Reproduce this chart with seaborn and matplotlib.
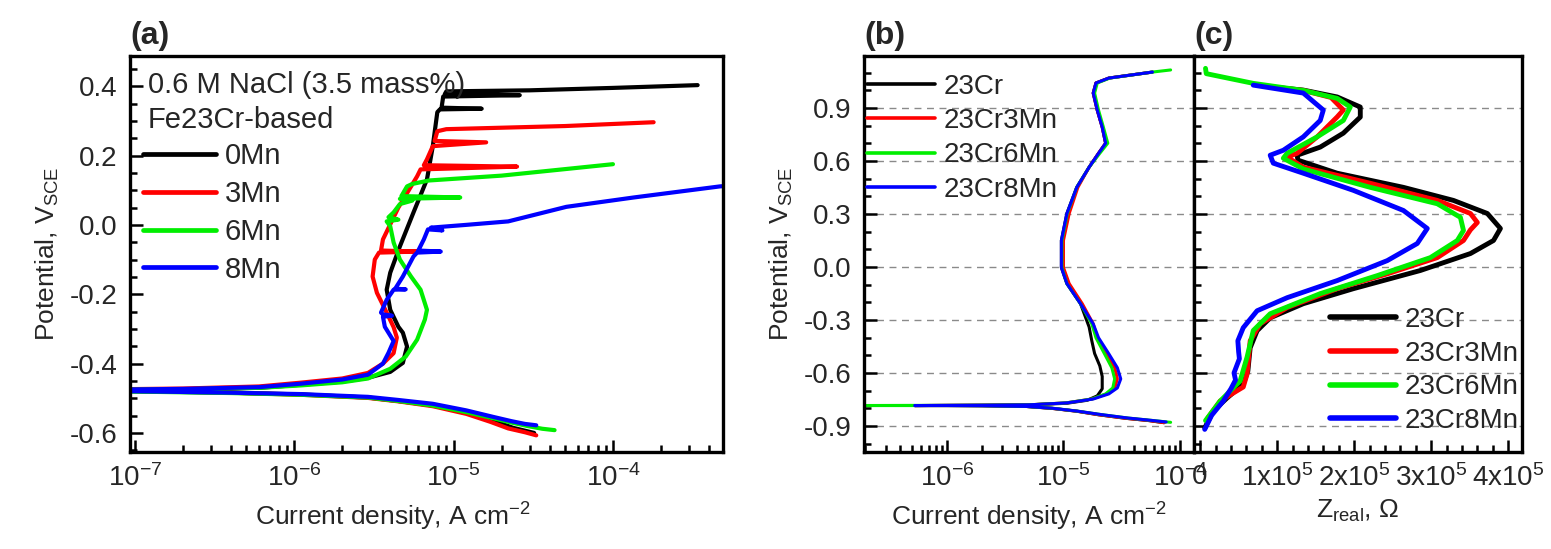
import numpy as np
import pandas as pd
import matplotlib
matplotlib.use('Agg')
from matplotlib import pyplot as plt
from matplotlib import ticker
import seaborn as sns

# ---- (a) polarization curves in 0.6 M NaCl, current in A cm-2, potential in V_SCE
alloys_a = ['0Mn', '3Mn', '6Mn', '8Mn']

i_a_0mn = [3.2e-5, 2.35e-5, 1.78e-5, 1.2e-5, 7.4e-6, 4.5e-6, 2.9e-6, 1.1e-6, 4e-7, 1.5e-7, 5e-8,
           5e-8, 2e-7, 6e-7, 1.1e-6, 2.0e-6, 2.9e-6, 4.0e-6, 4.8e-6, 5.1e-6, 4.8e-6, 4.5e-6, 4.0e-6,
           3.8e-6, 4.0e-6, 4.6e-6, 5.6e-6, 6.8e-6, 7.4e-6, 7.9e-6, 8.2e-6, 1.5e-5, 8.4e-6, 8.6e-6,
           2.6e-5, 8.8e-6, 9.0e-6, 3.0e-5, 1.0e-4, 3.4e-4]
E_a_0mn = [-0.600, -0.585, -0.565, -0.542, -0.521, -0.508, -0.498, -0.489, -0.484, -0.481, -0.478,
           -0.476, -0.474, -0.470, -0.461, -0.452, -0.441, -0.424, -0.398, -0.351, -0.311, -0.294, -0.245,
           -0.187, -0.138, -0.062, 0.036, 0.131, 0.227, 0.325, 0.333, 0.335, 0.338, 0.370,
           0.374, 0.377, 0.385, 0.388, 0.395, 0.403]

i_a_3mn = [3.3e-5, 2.8e-5, 2.2e-5, 1.7e-5, 1.2e-5, 7.4e-6, 4.5e-6, 2.9e-6, 1.1e-6, 4e-7, 1.5e-7, 5e-8,
           5e-8, 2e-7, 6e-7, 1.1e-6, 2.0e-6, 2.9e-6, 3.6e-6, 4.2e-6, 4.4e-6, 4.2e-6, 3.8e-6, 3.3e-6,
           3.1e-6, 3.2e-6, 3.4e-6, 5.9e-6, 3.5e-6, 3.6e-6, 4.5e-6, 5.9e-6, 6.2e-6, 2.5e-5, 6.5e-6,
           6.8e-6, 7.4e-6, 1.6e-5, 7.6e-6, 7.9e-6, 9.0e-6, 5.0e-5, 1.8e-4]
E_a_3mn = [-0.607, -0.598, -0.587, -0.568, -0.545, -0.523, -0.509, -0.499, -0.490, -0.484, -0.480, -0.477,
           -0.475, -0.472, -0.466, -0.455, -0.443, -0.427, -0.400, -0.370, -0.325, -0.295, -0.253, -0.196,
           -0.149, -0.100, -0.080, -0.077, -0.074, -0.042, 0.050, 0.140, 0.160, 0.168, 0.172,
           0.189, 0.227, 0.238, 0.242, 0.270, 0.276, 0.285, 0.296]

i_a_6mn = [4.3e-5, 3.6e-5, 2.9e-5, 2.3e-5, 1.78e-5, 1.2e-5, 7.4e-6, 4.5e-6, 2.9e-6, 1.1e-6, 4e-7, 1.5e-7, 5e-8,
           5e-8, 2e-7, 6e-7, 1.1e-6, 2.0e-6, 2.9e-6, 4.0e-6, 5.0e-6, 5.9e-6, 6.6e-6, 6.8e-6, 6.2e-6,
           5.4e-6, 4.6e-6, 4.2e-6, 4.0e-6, 3.8e-6, 4.5e-6, 3.9e-6, 4.2e-6, 4.6e-6, 5.5e-6, 4.6e-6,
           1.1e-5, 4.7e-6, 5.1e-6, 5.5e-6, 7.0e-6, 2.0e-5, 1.0e-4]
E_a_6mn = [-0.592, -0.588, -0.580, -0.570, -0.558, -0.540, -0.521, -0.508, -0.498, -0.490, -0.485, -0.482, -0.479,
           -0.476, -0.474, -0.470, -0.463, -0.454, -0.443, -0.415, -0.380, -0.331, -0.273, -0.245, -0.187,
           -0.149, -0.100, -0.051, -0.004, 0.010, 0.015, 0.022, 0.036, 0.060, 0.070, 0.075,
           0.079, 0.083, 0.111, 0.118, 0.128, 0.142, 0.175]

i_a_8mn = [3.3e-5, 2.8e-5, 2.3e-5, 1.78e-5, 1.2e-5, 7.4e-6, 4.5e-6, 2.9e-6, 1.1e-6, 4e-7, 1.5e-7, 5e-8,
           5e-8, 2e-7, 6e-7, 1.1e-6, 2.0e-6, 2.9e-6, 3.6e-6, 3.9e-6, 4.2e-6, 3.7e-6, 3.6e-6, 4.1e-6,
           3.6e-6, 3.5e-6, 3.8e-6, 4.2e-6, 5.0e-6, 4.3e-6, 4.8e-6, 5.6e-6, 5.9e-6, 8.3e-6, 6.0e-6,
           6.5e-6, 6.9e-6, 8.5e-6, 7.2e-6, 1.2e-5, 2.2e-5, 5.1e-5, 1.35e-4, 4.7e-4, 7e-4]
E_a_8mn = [-0.578, -0.574, -0.566, -0.554, -0.535, -0.516, -0.505, -0.496, -0.488, -0.484, -0.481, -0.478,
           -0.476, -0.473, -0.468, -0.458, -0.446, -0.432, -0.400, -0.369, -0.335, -0.294, -0.265, -0.262,
           -0.258, -0.253, -0.216, -0.187, -0.186, -0.184, -0.149, -0.091, -0.080, -0.077, -0.074,
           -0.042, -0.013, -0.016, -0.008, 0.000, 0.010, 0.052, 0.079, 0.111, 0.116]

# ---- (b) polarization curves, second solution
alloys_bc = ['23Cr', '23Cr3Mn', '23Cr6Mn', '23Cr8Mn']

i_b_23cr = [7.3e-5, 5.4e-5, 3.4e-5, 2.0e-5, 1.3e-5, 8e-6, 4.8e-6, 2e-6, 1e-6, 5.3e-7,
            1e-6, 2e-6, 5e-6, 1.07e-5, 1.6e-5, 1.95e-5, 2.15e-5, 2.15e-5, 2.05e-5, 1.85e-5, 1.75e-5,
            1.66e-5, 1.4e-5, 1.07e-5, 9.6e-6, 9.6e-6, 1.07e-5, 1.3e-5, 1.66e-5, 2.0e-5, 2.3e-5,
            2.15e-5, 1.95e-5, 1.8e-5, 1.9e-5, 2.45e-5, 5.8e-5]
E_b_23cr = [-0.882, -0.870, -0.857, -0.837, -0.817, -0.801, -0.790, -0.786, -0.785, -0.785,
            -0.784, -0.783, -0.781, -0.772, -0.755, -0.730, -0.690, -0.620, -0.560, -0.490, -0.418,
            -0.340, -0.208, -0.094, -0.003, 0.150, 0.303, 0.451, 0.565, 0.644, 0.701,
            0.792, 0.888, 0.985, 1.042, 1.070, 1.104]

i_b_3mn = [7.3e-5, 5.4e-5, 3.4e-5, 2.0e-5, 1.3e-5, 8e-6, 4.8e-6, 2e-6, 1e-6, 5.3e-7,
           1e-6, 2e-6, 5e-6, 1.05e-5, 1.75e-5, 2.35e-5, 2.75e-5, 2.9e-5, 2.75e-5, 2.35e-5, 1.95e-5,
           1.8e-5, 1.45e-5, 1.12e-5, 1.0e-5, 1.0e-5, 1.12e-5, 1.33e-5, 1.66e-5, 2.0e-5, 2.3e-5,
           2.15e-5, 1.95e-5, 1.8e-5, 1.9e-5, 2.45e-5, 5.8e-5]
E_b_3mn = [-0.882, -0.870, -0.857, -0.837, -0.817, -0.801, -0.790, -0.786, -0.785, -0.785,
           -0.784, -0.783, -0.781, -0.770, -0.748, -0.719, -0.685, -0.634, -0.571, -0.492, -0.401,
           -0.322, -0.208, -0.094, -0.003, 0.150, 0.303, 0.451, 0.565, 0.644, 0.701,
           0.792, 0.888, 0.985, 1.042, 1.070, 1.104]

i_b_6mn = [8.3e-5, 5.7e-5, 3.6e-5, 2.1e-5, 1.3e-5, 8e-6, 4.8e-6, 2e-6, 1e-6, 5e-7, 1.5e-7,
           5e-7, 1e-6, 2e-6, 5e-6, 1.05e-5, 1.75e-5, 2.3e-5, 2.65e-5, 2.75e-5, 2.6e-5, 2.25e-5, 1.9e-5,
           1.75e-5, 1.4e-5, 1.07e-5, 9.7e-6, 9.7e-6, 1.08e-5, 1.3e-5, 1.66e-5, 2.05e-5, 2.4e-5,
           2.2e-5, 2.0e-5, 1.85e-5, 1.95e-5, 2.5e-5, 5.8e-5, 8.3e-5]
E_b_6mn = [-0.880, -0.869, -0.856, -0.836, -0.816, -0.800, -0.790, -0.786, -0.785, -0.785, -0.785,
           -0.784, -0.784, -0.783, -0.781, -0.770, -0.748, -0.719, -0.685, -0.634, -0.571, -0.492, -0.401,
           -0.322, -0.208, -0.094, -0.003, 0.150, 0.303, 0.451, 0.565, 0.644, 0.701,
           0.792, 0.888, 0.985, 1.042, 1.070, 1.104, 1.116]

i_b_8mn = [7.6e-5, 5.5e-5, 3.5e-5, 2.1e-5, 1.3e-5, 8e-6, 4.8e-6, 2e-6, 1e-6, 5.3e-7,
           1e-6, 2e-6, 5e-6, 1.07e-5, 1.8e-5, 2.45e-5, 2.9e-5, 3.1e-5, 2.9e-5, 2.45e-5, 2.0e-5,
           1.8e-5, 1.4e-5, 1.07e-5, 9.6e-6, 9.6e-6, 1.07e-5, 1.3e-5, 1.66e-5, 2.0e-5, 2.3e-5,
           2.15e-5, 1.95e-5, 1.8e-5, 1.9e-5, 2.45e-5, 5.8e-5]
E_b_8mn = [-0.878, -0.868, -0.855, -0.836, -0.816, -0.800, -0.790, -0.786, -0.785, -0.785,
           -0.784, -0.783, -0.781, -0.770, -0.748, -0.719, -0.685, -0.634, -0.571, -0.492, -0.401,
           -0.322, -0.208, -0.094, -0.003, 0.150, 0.303, 0.451, 0.565, 0.644, 0.701,
           0.792, 0.888, 0.985, 1.042, 1.070, 1.104]

# ---- (c) real impedance vs potential, Ohm
z_c_23cr = [0.91e5, 1.34e5, 1.78e5, 2.08e5, 2.08e5, 1.86e5, 1.56e5, 1.26e5, 1.27e5, 1.78e5, 2.64e5,
            3.29e5, 3.73e5, 3.90e5, 3.81e5, 3.51e5, 2.86e5, 1.99e5, 1.34e5, 0.91e5, 0.74e5, 0.65e5,
            0.62e5, 0.56e5, 0.35e5, 0.17e5, 0.06e5]
E_c_23cr = [1.02, 1.002, 0.963, 0.906, 0.849, 0.758, 0.679, 0.633, 0.605, 0.531, 0.451,
            0.377, 0.303, 0.218, 0.150, 0.076, -0.020, -0.123, -0.208, -0.288, -0.361, -0.458,
            -0.589, -0.663, -0.742, -0.816, -0.912]

z_c_3mn = [0.91e5, 1.34e5, 1.70e5, 1.86e5, 1.78e5, 1.52e5, 1.26e5, 1.13e5, 1.34e5, 2.21e5, 3.08e5,
           3.51e5, 3.60e5, 3.51e5, 3.42e5, 3.08e5, 2.43e5, 1.78e5, 1.13e5, 0.78e5, 0.65e5, 0.61e5,
           0.56e5, 0.26e5, 0.10e5]
E_c_3mn = [1.02, 1.0, 0.96, 0.889, 0.85, 0.737, 0.644, 0.622, 0.565, 0.474, 0.377,
           0.303, 0.252, 0.21, 0.150, 0.053, -0.039, -0.123, -0.230, -0.322, -0.418, -0.606,
           -0.68, -0.759, -0.855]

z_c_6mn = [0.07e5, 0.08e5, 0.69e5, 1.34e5, 1.78e5, 1.95e5, 1.86e5, 1.52e5, 1.13e5, 1.08e5, 1.34e5,
           2.21e5, 3.08e5, 3.38e5, 3.42e5, 3.34e5, 2.99e5, 2.30e5, 1.56e5, 0.91e5, 0.69e5, 0.61e5,
           0.55e5, 0.52e5, 0.26e5, 0.07e5]
E_c_6mn = [1.125, 1.095, 1.04, 1.0, 0.955, 0.906, 0.83, 0.737, 0.644, 0.616, 0.555,
           0.451, 0.358, 0.281, 0.207, 0.150, 0.053, -0.049, -0.151, -0.265, -0.36, -0.51,
           -0.60, -0.645, -0.76, -0.87]

z_c_8mn = [0.69e5, 1.34e5, 1.60e5, 1.56e5, 1.34e5, 1.08e5, 0.91e5, 0.95e5, 1.34e5, 1.99e5, 2.64e5,
           2.95e5, 2.82e5, 2.43e5, 1.78e5, 1.13e5, 0.74e5, 0.56e5, 0.49e5, 0.50e5, 0.51e5, 0.44e5,
           0.46e5, 0.40e5, 0.30e5, 0.15e5, 0.06e5]
E_c_8mn = [1.03, 0.985, 0.889, 0.83, 0.737, 0.661, 0.633, 0.588, 0.531, 0.434, 0.320,
           0.218, 0.133, 0.036, -0.077, -0.174, -0.248, -0.344, -0.418, -0.48, -0.52, -0.60,
           -0.64, -0.69, -0.76, -0.84, -0.92]

colors = ['#000000', '#ff0000', '#00ee00', '#0000ff']


def make_frame(names, xs, ys):
    parts = [pd.DataFrame({'x': x, 'E': y, 'alloy': n}) for n, x, y in zip(names, xs, ys)]
    return pd.concat(parts, ignore_index=True)


df_a = make_frame(alloys_a, [i_a_0mn, i_a_3mn, i_a_6mn, i_a_8mn], [E_a_0mn, E_a_3mn, E_a_6mn, E_a_8mn])
df_b = make_frame(alloys_bc, [i_b_23cr, i_b_3mn, i_b_6mn, i_b_8mn], [E_b_23cr, E_b_3mn, E_b_6mn, E_b_8mn])
df_c = make_frame(alloys_bc, [z_c_23cr, z_c_3mn, z_c_6mn, z_c_8mn], [E_c_23cr, E_c_3mn, E_c_6mn, E_c_8mn])

sns.set_style('ticks')
plt.rcParams['font.family'] = ['Liberation Sans', 'DejaVu Sans']
plt.rcParams['mathtext.fontset'] = 'custom'
plt.rcParams['mathtext.rm'] = 'Liberation Sans'
plt.rcParams['mathtext.it'] = 'Liberation Sans:italic'
plt.rcParams['mathtext.bf'] = 'Liberation Sans:bold'
plt.rcParams['axes.unicode_minus'] = False
plt.rcParams['font.size'] = 19

fig = plt.figure(figsize=(15.51, 5.49), dpi=100)
ax_a = fig.add_axes([0.0838, 0.1767, 0.3823, 0.7213])
ax_b = fig.add_axes([0.5571, 0.1767, 0.2128, 0.7213])
ax_c = fig.add_axes([0.7698, 0.1767, 0.2115, 0.7213], sharey=ax_b)

ax_a.set_xscale('log')
ax_b.set_xscale('log')

sns.lineplot(data=df_a, x='x', y='E', hue='alloy', hue_order=alloys_a, palette=colors,
             sort=False, estimator=None, lw=3.0, legend=False, ax=ax_a)
sns.lineplot(data=df_b, x='x', y='E', hue='alloy', hue_order=alloys_bc, palette=colors,
             sort=False, estimator=None, lw=2.2, legend=False, ax=ax_b)
sns.lineplot(data=df_c, x='x', y='E', hue='alloy', hue_order=alloys_bc, palette=colors,
             sort=False, estimator=None, lw=3.5, legend=False, ax=ax_c)


def log_label(v, pos):
    return r'$10^{%d}$' % round(np.log10(v))


def z_label(v, pos):
    n = int(round(v / 1e5))
    return '0' if n == 0 else r'%dx10$^{5}$' % n


for ax in (ax_a, ax_b):
    ax.xaxis.set_major_locator(ticker.LogLocator(base=10, numticks=20))
    ax.xaxis.set_minor_locator(ticker.LogLocator(base=10, subs=np.arange(2, 10), numticks=20))
    ax.xaxis.set_major_formatter(ticker.FuncFormatter(log_label))
    ax.xaxis.set_minor_formatter(ticker.NullFormatter())
    ax.set_xlabel(r'Current density, A cm$^{-2}$', labelpad=6)
    ax.set_ylabel(r'Potential, V$_{\mathrm{SCE}}$', labelpad=6)
    ax.yaxis.set_major_formatter(ticker.FormatStrFormatter('%.1f'))

ax_a.xaxis.label.set_x(0.443)

ax_a.set_xlim(9.3e-8, 4.9e-4)
ax_a.set_ylim(-0.655, 0.487)
ax_a.yaxis.set_major_locator(ticker.MultipleLocator(0.2))
ax_a.yaxis.set_minor_locator(ticker.MultipleLocator(0.05))

ax_b.set_xlim(1.95e-7, 1.32e-4)
ax_b.set_ylim(-1.048, 1.195)
ax_b.yaxis.set_major_locator(ticker.MultipleLocator(0.3))
ax_b.yaxis.set_minor_locator(ticker.MultipleLocator(0.1))

ax_c.set_xlim(-8e3, 4.18e5)
ax_c.xaxis.set_major_locator(ticker.MultipleLocator(1e5))
ax_c.xaxis.set_minor_locator(ticker.MultipleLocator(2e4))
ax_c.xaxis.set_major_formatter(ticker.FuncFormatter(z_label))
ax_c.set_xlabel(r'Z$_{\mathrm{real}}$, Ω', labelpad=4)
ax_c.set_ylabel('')
ax_c.tick_params(axis='y', labelleft=False)

for ax in (ax_b, ax_c):
    ax.set_axisbelow(True)
    ax.yaxis.grid(True, which='major', linestyle=(0, (5, 4)), color='#8a8a8a', lw=1.0)

for ax in (ax_a, ax_b, ax_c):
    ax.tick_params(which='both', direction='in', top=False, right=False, width=1.8, color='black',
                   labelsize=20)
    ax.tick_params(which='major', length=9)
    ax.tick_params(which='minor', length=5)
    ax.tick_params(axis='y', which='major', pad=9)
    ax.tick_params(axis='x', which='major', pad=9)
    for s in ax.spines.values():
        s.set_linewidth(2.4)
        s.set_color('black')

# legends and annotations
ax_a.text(0.030, 0.907, '0.6 M NaCl (3.5 mass%)', transform=ax_a.transAxes, va='baseline', ha='left',
          fontsize=21)
ax_a.text(0.030, 0.818, 'Fe23Cr-based', transform=ax_a.transAxes, va='baseline', ha='left', fontsize=21)
leg_a = ax_a.legend(ax_a.lines[:4], alloys_a, loc='upper left', bbox_to_anchor=(0.022, 0.783),
                    frameon=False, borderpad=0, borderaxespad=0, handlelength=2.5,
                    handletextpad=0.3, labelspacing=0.34, fontsize=21)
for h in leg_a.legend_handles:
    h.set_linewidth(3.4)

leg_b = ax_b.legend(ax_b.lines[:4], alloys_bc, loc='upper left', bbox_to_anchor=(0.01, 0.955),
                    frameon=False, borderpad=0, borderaxespad=0, handlelength=2.45,
                    handletextpad=0.3, labelspacing=0.3, fontsize=20)
for h in leg_b.legend_handles:
    h.set_linewidth(2.6)

leg_c = ax_c.legend(ax_c.lines[:4], alloys_bc, loc='lower right', bbox_to_anchor=(0.99, 0.045),
                    frameon=False, borderpad=0, borderaxespad=0, handlelength=2.4,
                    handletextpad=0.3, labelspacing=0.28, fontsize=20)
for h in leg_c.legend_handles:
    h.set_linewidth(4.0)

for ax, tag in ((ax_a, '(a)'), (ax_b, '(b)'), (ax_c, '(c)')):
    ax.text(0.0, 1.012, tag, transform=ax.transAxes, ha='left', va='bottom',
            fontsize=23, fontweight='bold')

fig.savefig('out.png', dpi=100)
